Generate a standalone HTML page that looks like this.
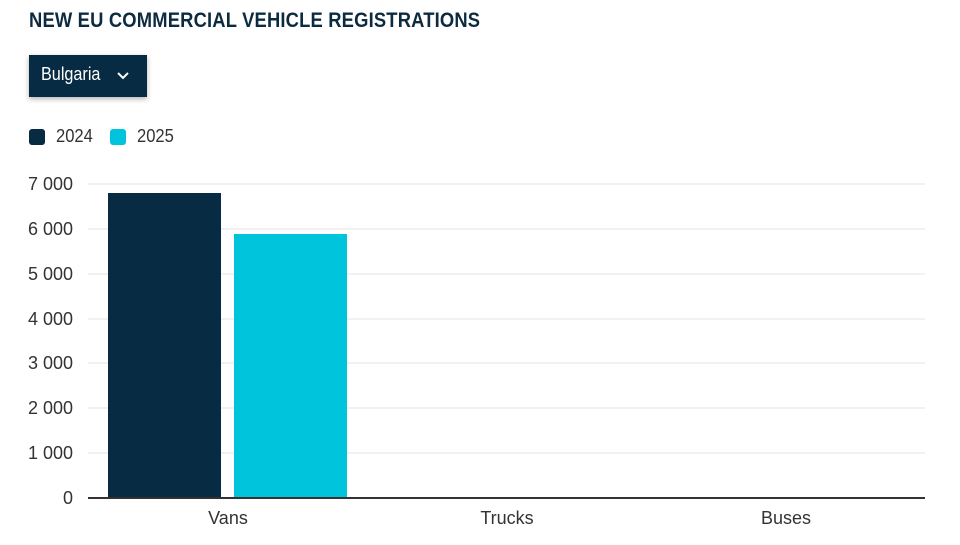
<!DOCTYPE html>
<html><head><style>
body{margin:0;width:960px;height:545px;background:#fff;overflow:hidden;font-family:"Liberation Sans",sans-serif;color:#1f3344;position:relative}
.t{position:absolute;white-space:nowrap}
</style></head><body>
<div class="t" style="left:29px;top:9px;font-size:21px;font-weight:bold;color:#0d2b40;transform:scaleX(0.875);transform-origin:left top;letter-spacing:0.2px">NEW EU COMMERCIAL VEHICLE REGISTRATIONS</div>
<div style="position:absolute;left:29px;top:55px;width:118px;height:42px;background:#062b42;box-shadow:0 2px 5px rgba(0,0,0,0.3)"></div>
<div class="t" style="left:41px;top:64px;font-size:18px;color:#fff;transform:scaleX(0.9);transform-origin:left top">Bulgaria</div>
<svg style="position:absolute;left:116px;top:71px" width="14" height="10"><polyline points="2,2 7,7 12,2" fill="none" stroke="#fff" stroke-width="2"/></svg>
<div style="position:absolute;left:29px;top:129px;width:16px;height:16px;border-radius:3px;background:#062b42"></div>
<div class="t" style="left:56px;top:126px;font-size:18px;color:#333;transform:scaleX(0.92);transform-origin:left top">2024</div>
<div style="position:absolute;left:110px;top:129px;width:16px;height:16px;border-radius:3px;background:#00c3dc"></div>
<div class="t" style="left:137px;top:126px;font-size:18px;color:#333;transform:scaleX(0.92);transform-origin:left top">2025</div>
<svg style="position:absolute;left:0;top:0" width="960" height="545">
<g stroke="#e3e3e3" stroke-width="1">
<line x1="88" x2="925" y1="184" y2="184"/><line x1="88" x2="925" y1="229" y2="229"/><line x1="88" x2="925" y1="274" y2="274"/><line x1="88" x2="925" y1="319" y2="319"/><line x1="88" x2="925" y1="363" y2="363"/><line x1="88" x2="925" y1="408" y2="408"/><line x1="88" x2="925" y1="453" y2="453"/>
</g>
<rect x="108" y="193" width="113" height="305" fill="#062b42"/>
<rect x="234" y="234" width="113" height="264" fill="#00c3dc"/>
<line x1="88" x2="925" y1="498" y2="498" stroke="#333" stroke-width="2"/>
<g font-family="Liberation Sans" font-size="18" fill="#333" text-anchor="end">
<text x="73" y="190">7 000</text><text x="73" y="235">6 000</text><text x="73" y="280">5 000</text><text x="73" y="325">4 000</text><text x="73" y="369">3 000</text><text x="73" y="414">2 000</text><text x="73" y="459">1 000</text><text x="73" y="504">0</text>
</g>
<g font-family="Liberation Sans" font-size="18" fill="#333" text-anchor="middle">
<text x="228" y="524">Vans</text><text x="507" y="524">Trucks</text><text x="786" y="524">Buses</text>
</g>
</svg>
</body></html>
